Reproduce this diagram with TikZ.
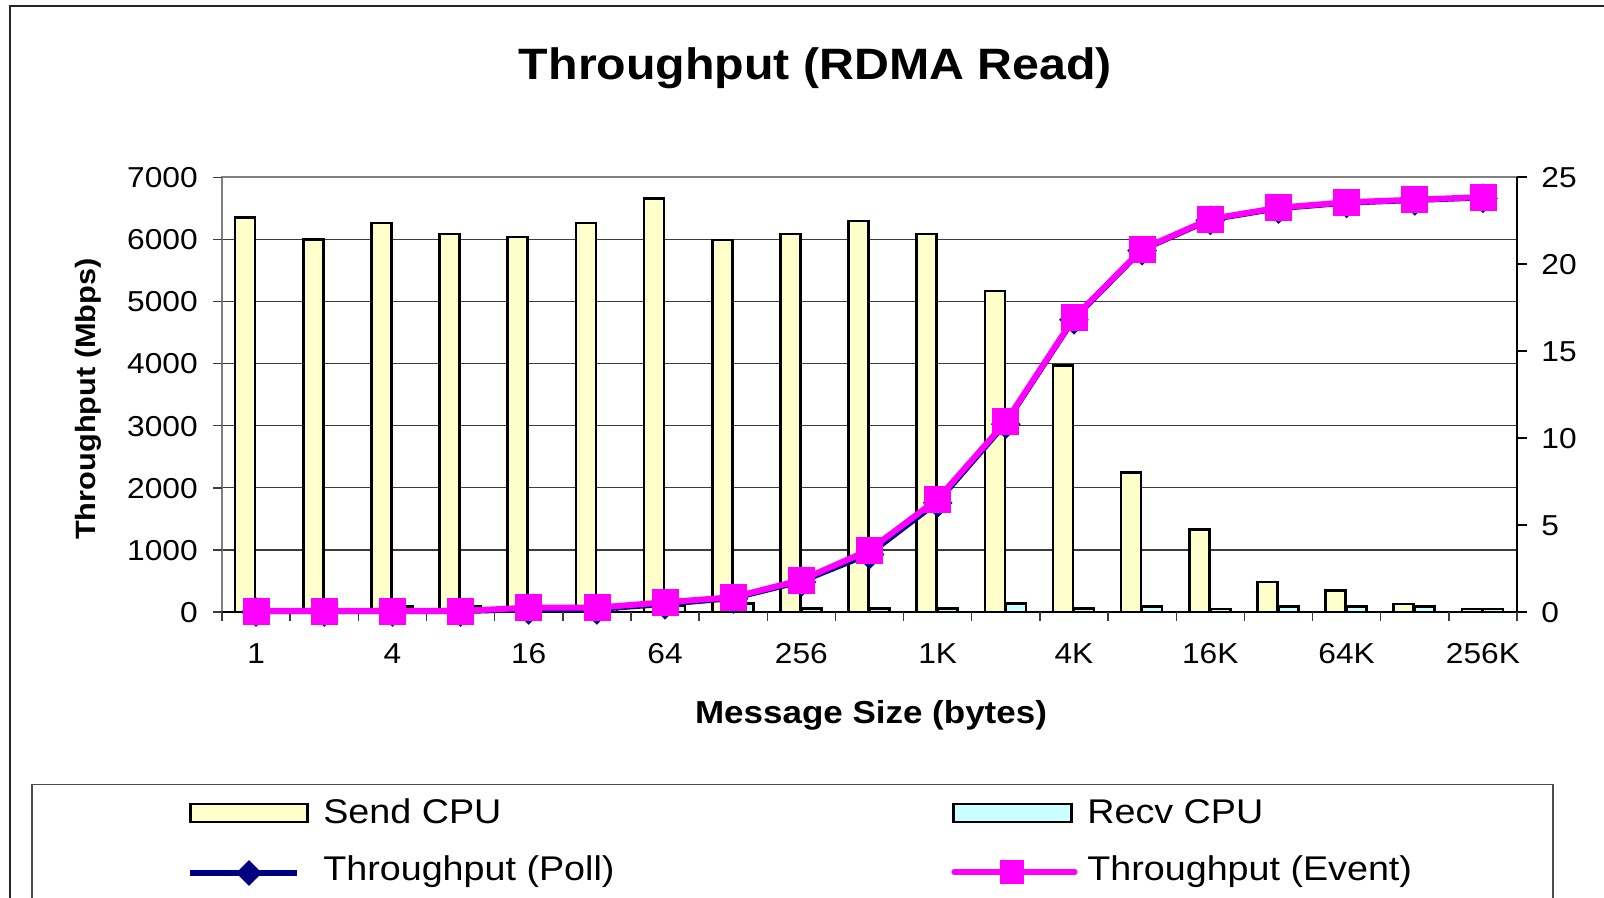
\documentclass[tikz,border=0pt]{standalone}
\usepackage{fontspec}
\setmainfont[FakeStretch=1.1]{Liberation Sans}
\usetikzlibrary{shapes.geometric}

\definecolor{sendfill}{HTML}{FFFFCC}
\definecolor{recvfill}{HTML}{CCFFFF}
\definecolor{pollcol}{HTML}{000080}
\definecolor{eventcol}{HTML}{FF00FF}
\definecolor{gridcol}{HTML}{3C3C3C}
\definecolor{edgecol}{HTML}{808080}

\begin{document}
\begin{tikzpicture}[x=0.02cm, y=-0.02cm,
  frame/.style={draw=black!85, line width=1.1pt},
  legendframe/.style={draw=black!70, line width=0.9pt},
  gridline/.style={draw=gridcol, line width=0.7pt},
  plotedge/.style={draw=edgecol, line width=1.2pt},
  axisline/.style={draw=black, line width=1pt},
  tickmark/.style={draw=gridcol, line width=0.8pt},
  sendbar/.style={fill=sendfill, draw=black, line width=1.5pt},
  recvbar/.style={fill=recvfill, draw=black, line width=1.5pt},
  pollline/.style={draw=pollcol, line width=2.4pt, line join=round},
  eventline/.style={draw=eventcol, line width=3.4pt, line join=round},
  pollmark/.style={diamond, fill=pollcol, inner sep=0pt, minimum width=0.6cm, minimum height=0.6cm},
  eventmark/.style={rectangle, fill=eventcol, draw=eventcol, line width=0.4pt, inner sep=0pt, minimum size=0.52cm},
  ticklab/.style={inner sep=0pt, font=\fontsize{16.4}{19}\selectfont},
  axistitle/.style={inner sep=0pt, font=\fontsize{18.1}{21}\selectfont\bfseries},
  legendtext/.style={inner sep=0pt, anchor=base west, font=\fontsize{19.5}{23}\selectfont},
]
\useasboundingbox (0,0) rectangle (1604,898);
\fill[white] (0,0) rectangle (1604,898);

% chart frame and legend frame
\draw[frame] (10,900) -- (10,6.3) -- (1606,6.3);
\draw[legendframe] (32,900) -- (32,784.5) -- (1553,784.5) -- (1553,900);

% title
\node[anchor=base, inner sep=0pt, font=\fontsize{25}{30}\selectfont\bfseries] (title) at (815.5,80) {Throughput (RDMA Read)};

% horizontal gridlines (every 1000 Mbps)
\foreach \j in {1,...,6}
  \draw[gridline] (222,{612-62.1*\j}) -- (1517,{612-62.1*\j});
\draw[plotedge] (222,612) -- (222,177.3) -- (1517,177.3);

% CPU bars
\foreach \s/\r [count=\k from 0] in {6350/50, 6000/50, 6265/90, 6085/90, 6040/50, 6265/50,
    6660/100, 5990/140, 6085/60, 6295/60, 6085/60, 5170/132, 3965/60, 2245/90,
    1325/50, 485/90, 350/90, 130/90, 50/50} {
  \pgfmathsetmacro\cx{256.08+68.158*\k}
  \draw[sendbar] ({\cx-21},612) rectangle ({\cx-1},{612-0.0621*\s});
  \draw[recvbar] ({\cx},612) rectangle ({\cx+20},{612-0.0621*\r});
}

% axes and tick marks
\draw[axisline] (222,612) -- (1517,612);
\draw[axisline] (1517,177.3) -- (1517,612);
\foreach \j in {0,...,7}
  \draw[tickmark] (213,{612-62.1*\j}) -- (222,{612-62.1*\j});
\foreach \j in {0,...,5}
  \draw[axisline] (1517,{612-86.95*\j}) -- (1527,{612-86.95*\j});
\foreach \k in {0,...,19}
  \draw[tickmark] ({222+68.158*\k},612) -- ({222+68.158*\k},621);

% tick labels
\foreach \v [count=\j from 0] in {0,1000,2000,3000,4000,5000,6000,7000}
  \node[ticklab, anchor=base east] (yl\j) at (198,{612-62.1*\j+10.3}) {\v};
\foreach \v [count=\j from 0] in {0,5,10,15,20,25}
  \node[ticklab, anchor=base west] (yr\j) at (1541,{612-86.95*\j+10.3}) {\v};
\foreach \t [count=\j from 0] in {1,4,16,64,256,1K,4K,16K,64K,256K}
  \node[ticklab, anchor=base] (xl\j) at ({256.08+136.316*\j},663) {\t};

% axis titles
\node[axistitle, anchor=base] (xtitle) at (871,723) {Message Size (bytes)};
\node[inner sep=0pt, font=\fontsize{15.9}{19}\selectfont\bfseries, rotate=90, anchor=base] (ytitle) at (95,399) {Throughput (Mbps)};

% throughput series
\foreach \p/\e [count=\k from 0] in {0/0.06, 0/0.06, 0/0.06, 0/0.06, 0.12/0.25, 0.12/0.25,
    0.42/0.56, 0.75/0.85, 1.72/1.84, 3.3/3.57, 6.28/6.5, 10.8/10.94, 16.8/16.92,
    20.78/20.87, 22.52/22.6, 23.17/23.25, 23.49/23.56, 23.64/23.71, 23.79/23.86} {
  \pgfmathsetmacro\cx{256.08+68.158*\k}
  \coordinate (p\k) at (\cx,{612-17.39*\p});
  \coordinate (e\k) at (\cx,{612-17.39*\e});
}
\draw[pollline] (p0) \foreach \i in {1,...,18} { -- (p\i) };
\foreach \i in {0,...,18}
  \node[pollmark] (pm\i) at (p\i) {};
\draw[eventline] (e0) \foreach \i in {1,...,18} { -- (e\i) };
\foreach \i in {0,...,18}
  \node[eventmark] (em\i) at (e\i) {};

% legend
\node[sendbar, rectangle, inner sep=0pt, minimum width=2.34cm, minimum height=0.36cm] (lsend) at (249,813) {};
\node[legendtext] (tsend) at (323,823) {Send CPU};
\node[recvbar, rectangle, inner sep=0pt, minimum width=2.36cm, minimum height=0.36cm] (lrecv) at (1012.5,813) {};
\node[legendtext] (trecv) at (1087,823) {Recv CPU};

\coordinate (lpa) at (190,873);
\coordinate (lpb) at (297,873);
\draw[draw=pollcol, line width=3.8pt] (lpa) -- (lpb);
\node[pollmark, minimum width=0.52cm, minimum height=0.52cm] (lpm) at (249,873) {};
\node[legendtext] (tpoll) at (323,880) {Throughput (Poll)};

\coordinate (lea) at (954,872);
\coordinate (leb) at (1075,872);
\draw[draw=eventcol, line width=2.9pt, line cap=round] (lea) -- (leb);
\node[eventmark, minimum size=0.46cm] (lem) at (1011.5,872) {};
\node[legendtext] (tevent) at (1087,880) {Throughput (Event)};
\end{tikzpicture}
\end{document}
